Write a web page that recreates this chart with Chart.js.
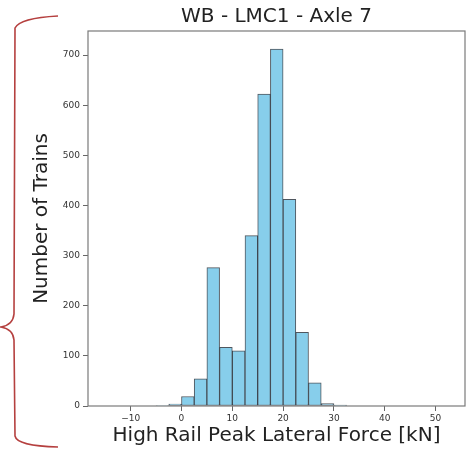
<!DOCTYPE html>
<html>
<head>
<meta charset="utf-8">
<script src="https://cdn.jsdelivr.net/npm/chart.js@4.4.0/dist/chart.umd.min.js"></script>
<style>
  html, body { margin: 0; padding: 0; background: #fff; }
  #wrap { width: 469px; height: 450px; }
</style>
</head>
<body>
<div id="wrap"><canvas id="histo" width="469" height="450"></canvas></div>
<script>
// histogram bins (centres, bin width 2.5 kN) and counts
var binCenters = [-3.75, -1.25, 1.25, 3.75, 6.25, 8.75, 11.25, 13.75, 16.25, 18.75, 21.25, 23.75, 26.25, 28.75, 31.25];
var trainCounts = [1, 4, 19, 54, 276, 117, 110, 340, 622, 712, 412, 147, 46, 5, 2];
var xTickValues = [-10, 0, 10, 20, 30, 40, 50];
var yTickValues = [0, 100, 200, 300, 400, 500, 600, 700];

var font = "'DejaVu Sans', sans-serif";

// frame round the plot + the red brace on the left of the picture
var framePlugin = {
    id: 'frame',
    afterDraw: (chart) => {
        var c = chart.ctx, a = chart.chartArea;
        c.save();
        c.strokeStyle = '#7a7a7a';
        c.lineWidth = 1.2;
        c.strokeRect(a.left, a.top, a.right - a.left, a.bottom - a.top);

        c.strokeStyle = '#b5403f';
        c.lineWidth = 1.6;
        c.beginPath();
        c.moveTo(58, 16);
        c.quadraticCurveTo(20, 18, 15, 28);
        c.lineTo(14, 314);
        c.quadraticCurveTo(13, 325, 1, 327);
        c.quadraticCurveTo(13, 329, 14, 340);
        c.lineTo(15, 436);
        c.quadraticCurveTo(17, 446, 58, 447);
        c.stroke();
        c.restore();
    }
};

var ctx = document.getElementById('histo');

var myChart = new Chart(ctx, {
    type: 'bar',
    data: {
        datasets: [{
            data: binCenters.map((x, i) => ({x: x, y: trainCounts[i]})),
            backgroundColor: '#87ceeb',
            borderColor: 'rgba(20, 30, 40, 0.75)',
            borderWidth: 1,
            borderSkipped: false,
            barPercentage: 1,
            categoryPercentage: 1
        }]
    },
    options: {
        responsive: false,
        animation: false,
        layout: { padding: { left: 0, right: 4, top: 0, bottom: 0 } },
        plugins: {
            legend: { display: false },
            tooltip: { enabled: false },
            title: {
                display: true,
                fullSize: false,
                text: 'WB - LMC1 - Axle 7',
                color: '#222',
                font: { family: font, size: 20, weight: 'normal' },
                padding: { top: 5, bottom: 2 }
            }
        },
        scales: {
            x: {
                type: 'linear',
                offset: false,
                min: -18.4,
                max: 55.8,
                afterBuildTicks: (scale) => { scale.ticks = xTickValues.map(v => ({value: v})); },
                afterFit: (scale) => { scale.height = 44; },
                grid: { offset: false, drawOnChartArea: false, tickLength: 5, color: '#666' },
                border: { display: false },
                ticks: {
                    color: '#333',
                    font: { family: font, size: 9 },
                    padding: 2,
                    maxRotation: 0,
                    callback: (v) => String(v).replace('-', '\u2212')
                },
                title: {
                    display: true,
                    text: 'High Rail Peak Lateral Force [kN]',
                    color: '#222',
                    font: { family: font, size: 20 },
                    padding: { top: 0, bottom: 2 }
                }
            },
            y: {
                min: 0,
                max: 748,
                afterBuildTicks: (scale) => { scale.ticks = yTickValues.map(v => ({value: v})); },
                afterFit: (scale) => { scale.width = 88; },
                grid: { drawOnChartArea: false, tickLength: 5, color: '#666' },
                border: { display: false },
                ticks: { color: '#333', font: { family: font, size: 9 }, padding: 3 },
                title: {
                    display: true,
                    text: 'Number of Trains',
                    color: '#222',
                    font: { family: font, size: 20 },
                    padding: { top: 30, bottom: 0 }
                }
            }
        }
    },
    plugins: [framePlugin]
});
</script>
</body>
</html>
